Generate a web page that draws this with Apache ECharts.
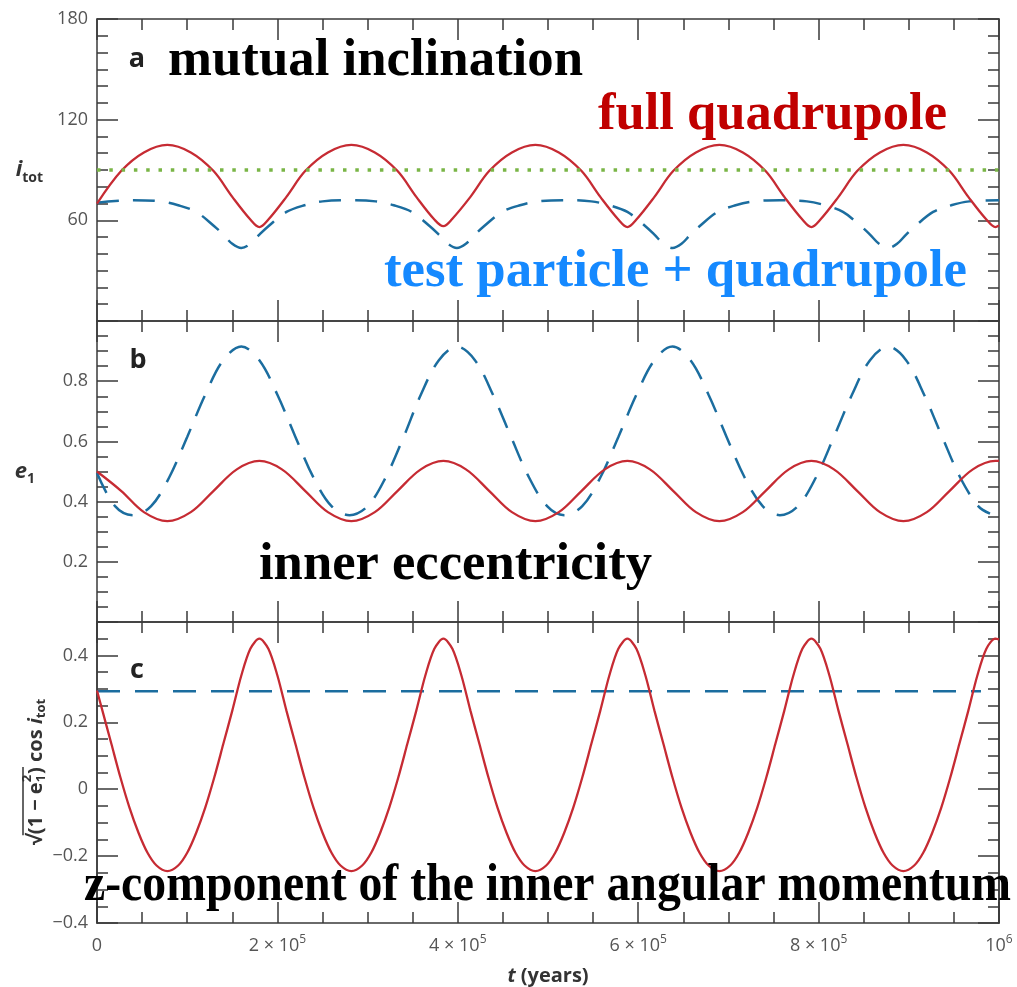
<!DOCTYPE html>
<html><head><meta charset="utf-8">
<script src="https://cdn.jsdelivr.net/npm/echarts@6/dist/echarts.min.js"></script>
<style>html,body{margin:0;padding:0;background:#fff}#c{width:1017px;height:987px}</style>
</head><body><div id="c"></div>
<script>
// ---------- data (t in kyr) ----------
const xTickValues = [0, 200000, 400000, 600000, 800000, 1000000];
const xTickLabels = ['0', '2 × 10{s|5}', '4 × 10{s|5}', '6 × 10{s|5}', '8 × 10{s|5}', '10{s|6}'];
const inclTicks = [60, 120, 180];
const eccTicks = [0.2, 0.4, 0.6, 0.8];
const jzTicks = [-0.4, -0.2, 0, 0.2, 0.4];

// panel a: mutual inclination (deg)
const fullIncl = [[0,70],[27,89.5],[52,100.5],[78,105],[104,100.5],[129,89.5],[150,74],[170,60.5],[180,56],[190,60.5],[210,74],[231,89.5],[256,100.5],[282,105],[308,100.5],[333,89.5],[354,74],[374,60.5],[384,56.5],[394,61],[414,74],[435,89.5],[460,100.5],[486,105],[512,100.5],[537,89.5],[558,74],[578,60.5],[588,56],[598,60.5],[618,74],[639,89.5],[664,100.5],[690,105],[716,100.5],[741,89.5],[762,74],[782,60.5],[792,56],[802,60.5],[822,74],[843,89.5],[868,100.5],[894,105],[920,100.5],[945,89.5],[966,74],[986,60.5],[996,56],[1000,57]];
const tpIncl = [[0,70.5],[40,72],[70,71.3],[90,69],[110,65],[130,56.5],[140,51.5],[150,46],[160,43.5],[170,46],[180,51.5],[190,56.5],[210,65],[230,69],[250,71.3],[280,72],[309,71.3],[329,69],[349,65],[369,56.5],[379,51.5],[389,46],[399,43.5],[409,46],[419,51.5],[429,56.5],[449,65],[469,69],[489,71.3],[518,72],[548,71.3],[568,69],[588,65],[608,56.5],[618,51.5],[628,46],[638,43.5],[648,46],[658,51.5],[668,56.5],[688,65],[708,69],[728,71.3],[757,72],[787,71.3],[807,69],[827,65],[847,56.5],[857,51.5],[867,46],[877,43.5],[887,46],[897,51.5],[907,56.5],[927,65],[947,69],[967,71.3],[1000,72]];
const incl90 = [[0,90],[1000,90]];

// panel b: inner eccentricity
const fullEcc = [[0,0.5],[27,0.435],[52,0.365],[78,0.335],[104,0.365],[129,0.435],[155,0.507],[180,0.535],[205,0.507],[231,0.435],[256,0.365],[282,0.335],[308,0.365],[333,0.435],[359,0.507],[384,0.535],[409,0.507],[435,0.435],[460,0.365],[486,0.335],[512,0.365],[537,0.435],[563,0.507],[588,0.535],[613,0.507],[639,0.435],[664,0.365],[690,0.335],[716,0.365],[741,0.435],[767,0.507],[792,0.535],[817,0.507],[843,0.435],[868,0.365],[894,0.335],[920,0.365],[945,0.435],[971,0.507],[996,0.535],[1000,0.535]];
const tpEcc = [[0,0.495],[20,0.385],[40,0.355],[60,0.385],[80,0.48],[100,0.615],[120,0.755],[140,0.87],[160,0.915],[180,0.87],[200,0.755],[220,0.615],[240,0.48],[260,0.385],[280,0.355],[300,0.385],[320,0.48],[340,0.615],[359,0.755],[379,0.87],[399,0.915],[419,0.87],[439,0.755],[459,0.615],[479,0.48],[499,0.385],[518,0.355],[538,0.385],[558,0.48],[578,0.615],[598,0.755],[618,0.87],[638,0.915],[658,0.87],[678,0.755],[698,0.615],[718,0.48],[738,0.385],[757,0.355],[777,0.385],[797,0.48],[817,0.615],[837,0.755],[857,0.87],[877,0.915],[897,0.87],[917,0.755],[937,0.615],[957,0.48],[977,0.385],[990,0.36]];

// panel c: z-component of inner angular momentum
const fullJz = [[0,0.295],[6,0.235],[16,0.135],[26,0.035],[36,-0.055],[46,-0.13],[56,-0.19],[66,-0.228],[78,-0.245],
  [90,-0.228],[100,-0.19],[110,-0.13],[120,-0.055],[130,0.035],[140,0.135],[150,0.235],[160,0.34],[170,0.42],[180,0.45],
  [190,0.42],[200,0.34],[210,0.235],[220,0.135],[230,0.035],[240,-0.055],[250,-0.13],[260,-0.19],[270,-0.228],[282,-0.245],
  [294,-0.228],[304,-0.19],[314,-0.13],[324,-0.055],[334,0.035],[344,0.135],[354,0.235],[364,0.34],[374,0.42],[384,0.45],
  [394,0.42],[404,0.34],[414,0.235],[424,0.135],[434,0.035],[444,-0.055],[454,-0.13],[464,-0.19],[474,-0.228],[486,-0.245],
  [498,-0.228],[508,-0.19],[518,-0.13],[528,-0.055],[538,0.035],[548,0.135],[558,0.235],[568,0.34],[578,0.42],[588,0.45],
  [598,0.42],[608,0.34],[618,0.235],[628,0.135],[638,0.035],[648,-0.055],[658,-0.13],[668,-0.19],[678,-0.228],[690,-0.245],
  [702,-0.228],[712,-0.19],[722,-0.13],[732,-0.055],[742,0.035],[752,0.135],[762,0.235],[772,0.34],[782,0.42],[792,0.45],
  [802,0.42],[812,0.34],[822,0.235],[832,0.135],[842,0.035],[852,-0.055],[862,-0.13],[872,-0.19],[882,-0.228],[894,-0.245],
  [906,-0.228],[916,-0.19],[926,-0.13],[936,-0.055],[946,0.035],[956,0.135],[966,0.235],[976,0.34],[986,0.42],[996,0.45],[1000,0.448]];
const tpJz = [[0,0.293],[980,0.293]];

const KYR = 1000;
const toYears = arr => arr.map(p => [p[0] * KYR, p[1]]);

// ---------- styling ----------
const AX = '#3a3a3a';
const LBL = '#555';
const RED = '#c62b33';
const BLUE = '#1b6d9f';
const GREEN = '#79b546';
const near = (a, b) => Math.abs(a - b) < 1e-6;

function xAxis(g, pos, show) {
  return {
    type: 'value', gridIndex: g, position: pos, min: 0, max: 1000000, interval: 200000,
    axisLine: { show: true, onZero: false, lineStyle: { color: AX, width: 1.5 } },
    axisTick: { show: true, inside: true, length: 21, lineStyle: { color: AX, width: 1.5 } },
    minorTick: { show: true, splitNumber: 4, length: 11, lineStyle: { color: AX, width: 1.5 } },
    splitLine: { show: false }, minorSplitLine: { show: false },
    axisLabel: {
      show: show, margin: 11, color: LBL, fontFamily: 'Open Sans', fontSize: 18, lineHeight: 24,
      formatter: v => { const i = xTickValues.findIndex(t => near(t, v)); return i < 0 ? '' : xTickLabels[i]; },
      rich: { s: { fontFamily: 'Open Sans', fontSize: 12, color: LBL, lineHeight: 12, verticalAlign: 'top' } }
    },
    name: show ? '{i|t}{b| (years)}' : '', nameLocation: 'middle', nameGap: 43,
    nameTextStyle: { rich: {
      i: { fontFamily: 'Open Sans', fontWeight: 'bold', fontStyle: 'italic', fontSize: 20, color: '#333' },
      b: { fontFamily: 'Open Sans', fontWeight: 'bold', fontSize: 20, color: '#333' } } }
  };
}
function yAxis(g, pos, min, max, interval, minorSplit, ticks, fmt, extra) {
  return Object.assign({
    type: 'value', gridIndex: g, position: pos, min: min, max: max, interval: interval,
    axisLine: { show: true, onZero: false, lineStyle: { color: AX, width: 1.5 } },
    axisTick: { show: true, inside: true, length: 21, lineStyle: { color: AX, width: 1.5 } },
    minorTick: { show: minorSplit > 0, splitNumber: minorSplit || 5, length: 11, lineStyle: { color: AX, width: 1.5 } },
    splitLine: { show: false }, minorSplitLine: { show: false },
    axisLabel: {
      show: pos === 'left' && !!ticks, margin: 9, color: LBL, fontFamily: 'Open Sans', fontSize: 18,
      formatter: v => (ticks && ticks.some(t => near(t, v))) ? fmt(v) : ''
    }
  }, extra || {});
}
const jzFmt = v => near(v, 0) ? '0' : (v < 0 ? '\u2212' + Math.abs(v).toFixed(1) : v.toFixed(1));

const nameRichA = {
  i: { fontFamily: 'Open Sans', fontWeight: 'bold', fontStyle: 'italic', fontSize: 22, color: '#333', lineHeight: 30, verticalAlign: 'middle' },
  s: { fontFamily: 'Open Sans', fontWeight: 'bold', fontSize: 14, color: '#333', lineHeight: 16, verticalAlign: 'bottom' }
};

// ---------- annotation text helpers ----------
const ctx = document.createElement('canvas').getContext('2d');
function textW(t, font) { ctx.font = font; return ctx.measureText(t).width; }
const SERIF = "bold 52px 'Liberation Serif'";
function fitText(text, x0, x1, yMid, color) {
  const w = textW(text, SERIF);
  return { type: 'text', x: x0, y: yMid, scaleX: (x1 - x0) / w, z: 100,
    style: { text: text, font: SERIF, fill: color, align: 'left', verticalAlign: 'middle', textAlign: 'left', textVerticalAlign: 'middle' } };
}
function panelLabel(t, x, y) {
  return { type: 'text', x: x, y: y, z: 100,
    style: { text: t, font: "bold 27px 'Open Sans'", fill: '#222', align: 'center', verticalAlign: 'middle', textAlign: 'center', textVerticalAlign: 'middle' } };
}
// rotated y label of panel c: sqrt(1 - e1^2) cos i_tot
function jzName(cx, cy) {
  const B = "bold 20px 'Open Sans'", BI = "italic bold 20px 'Open Sans'", S = "bold 13px 'Open Sans'";
  const pieces = [
    { t: '\u221A', f: B, dy: 0 },
    { t: '(1 \u2212 e', f: B, dy: 0, over: true },
    { stack: [{ t: '2', f: S, dy: -9 }, { t: '1', f: S, dy: 5 }], over: true },
    { t: ')', f: B, dy: 0, over: true },
    { t: ' cos ', f: B, dy: 0 },
    { t: 'i', f: BI, dy: 0 },
    { t: 'tot', f: S, dy: 5 }
  ];
  let W = 0;
  pieces.forEach(p => { p.w = p.stack ? Math.max(...p.stack.map(s => textW(s.t, s.f))) + 1 : textW(p.t, p.f); W += p.w; });
  let x = -W / 2; const children = []; let ox0 = null, ox1 = null;
  const mk = (t, f, xx, dy) => ({ type: 'text', x: xx, y: dy, style: { text: t, font: f, fill: '#333', align: 'left', verticalAlign: 'middle', textAlign: 'left', textVerticalAlign: 'middle' } });
  pieces.forEach(p => {
    if (p.stack) p.stack.forEach(s => children.push(mk(s.t, s.f, x, s.dy)));
    else children.push(mk(p.t, p.f, x, p.dy));
    if (p.over) { if (ox0 === null) ox0 = x; ox1 = x + p.w; }
    x += p.w;
  });
  children.push({ type: 'line', shape: { x1: ox0 - 1, y1: -13, x2: ox1, y2: -13 }, style: { stroke: '#333', lineWidth: 1.5 } });
  return { type: 'group', x: cx, y: cy, rotation: Math.PI / 2, children: children };
}

const chart = echarts.init(document.getElementById('c'), null, { renderer: 'canvas' });
const grids = [
  { left: 97, right: 18, top: 19, height: 302 },
  { left: 97, right: 18, top: 321, height: 301 },
  { left: 97, right: 18, top: 622, height: 301 }
];
const option = {
  animation: false,
  backgroundColor: '#fff',
  textStyle: { fontFamily: 'Open Sans' },
  grid: grids,
  xAxis: [xAxis(0, 'bottom', false), xAxis(0, 'top', false), xAxis(1, 'bottom', false), xAxis(1, 'top', false), xAxis(2, 'bottom', true), xAxis(2, 'top', false)],
  yAxis: [
    yAxis(0, 'left', 0, 180, 60, 6, inclTicks, v => String(v), { name: '{i|i}{s|tot}', nameLocation: 'middle', nameRotate: 0, nameGap: 54, nameTextStyle: { rich: nameRichA } }),
    yAxis(0, 'right', 0, 180, 60, 6, null, null),
    yAxis(1, 'left', 0, 1, 0.2, 4, eccTicks, v => v.toFixed(1), { name: '{i|e}{s|1}', nameLocation: 'middle', nameRotate: 0, nameGap: 62, nameTextStyle: { rich: nameRichA } }),
    yAxis(1, 'right', 0, 1, 0.2, 4, null, null),
    yAxis(2, 'left', -0.4, 0.5, 0.2, 0, jzTicks, jzFmt),
    yAxis(2, 'right', -0.4, 0.5, 0.2, 0, null, null),
    yAxis(2, 'left', -0.4, 0.5, 0.05, 0, null, null, { axisTick: { show: true, inside: true, length: 11, lineStyle: { color: AX, width: 1.5 } } }),
    yAxis(2, 'right', -0.4, 0.5, 0.05, 0, null, null, { axisTick: { show: true, inside: true, length: 11, lineStyle: { color: AX, width: 1.5 } } })
  ],
  series: [
    { type: 'line', xAxisIndex: 0, yAxisIndex: 0, data: toYears(tpIncl), smooth: 0.35, symbol: 'none', lineStyle: { color: BLUE, width: 2.5, type: [22, 14] }, z: 3 },
    { type: 'line', xAxisIndex: 0, yAxisIndex: 0, data: toYears(fullIncl), smooth: 0.35, symbol: 'none', lineStyle: { color: RED, width: 2.3 }, z: 4 },
    { type: 'line', xAxisIndex: 0, yAxisIndex: 0, data: toYears(incl90), symbol: 'none', lineStyle: { color: GREEN, width: 3.5, type: [3.5, 8.8], cap: 'butt' }, z: 5 },
    { type: 'line', xAxisIndex: 2, yAxisIndex: 2, data: toYears(tpEcc), smooth: 0.35, symbol: 'none', lineStyle: { color: BLUE, width: 2.5, type: [22, 14] }, z: 3 },
    { type: 'line', xAxisIndex: 2, yAxisIndex: 2, data: toYears(fullEcc), smooth: 0.35, symbol: 'none', lineStyle: { color: RED, width: 2.3 }, z: 4 },
    { type: 'line', xAxisIndex: 4, yAxisIndex: 4, data: toYears(tpJz), symbol: 'none', lineStyle: { color: BLUE, width: 2.5, type: [23, 15] }, z: 3 },
    { type: 'line', xAxisIndex: 4, yAxisIndex: 4, data: toYears(fullJz), smooth: 0.3, symbol: 'none', lineStyle: { color: RED, width: 2.3 }, z: 4 }
  ],
  graphic: [
    panelLabel('a', 137, 59),
    panelLabel('b', 138, 360),
    panelLabel('c', 137, 670),
    jzName(36, 772),
    fitText('mutual inclination', 168, 583, 62, '#000'),
    fitText('full quadrupole', 598, 947, 116, '#c00000'),
    fitText('test particle + quadrupole', 384, 967, 273, '#1589ff'),
    fitText('inner eccentricity', 259, 652, 566, '#000'),
    fitText('z-component of the inner angular momentum', 84, 1011, 887, '#000')
  ]
};
chart.setOption(option);
</script>
</body></html>
